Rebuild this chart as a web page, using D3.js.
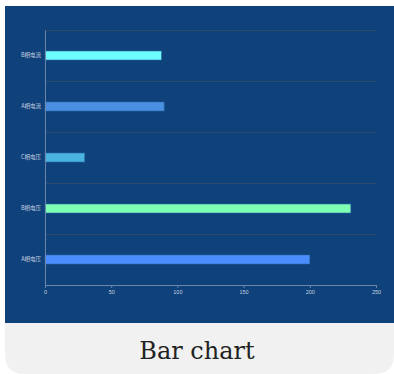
<!DOCTYPE html>
<html><head><meta charset="utf-8">
<script src="https://cdn.jsdelivr.net/npm/d3@7"></script>
<style>
html,body{margin:0;padding:0;background:#fff;}
svg{display:block;}
</style></head>
<body>
<svg id="c" width="394" height="374"></svg>
<script>
const categories = ["B相电流","A相电流","C相电压","B相电压","A相电压"];
const values = [88, 90, 30, 231, 200];
const barColors = ["#6ffcff","#4a90e2","#4ab3e0","#7effb2","#4a8dff"];
const xTicks = [0,50,100,150,200,250];
const title = "Bar chart";

const svg = d3.select("#c");
// card
const clipPath = "M5,6 H394 V354 Q394,374 374,374 H25 Q5,374 5,354 Z";
svg.append("path").attr("d", clipPath).attr("fill", "#f1f1f1");
svg.append("rect").attr("x",5).attr("y",6).attr("width",389).attr("height",317).attr("fill","#0f417b");

const x = d3.scaleLinear().domain([0,250]).range([45,376]);
const y = d3.scaleBand().domain(categories).range([30,285]);

// grid lines (category boundaries)
const bounds = categories.map(c => y(c));
svg.append("g").selectAll("line").data(bounds).join("line")
  .attr("x1",45).attr("x2",376).attr("y1",d=>d+0.5).attr("y2",d=>d+0.5)
  .attr("stroke","#2e4a6e").attr("stroke-width",1);

// bars
const bh = 9;
svg.append("g").selectAll("rect").data(categories).join("rect")
  .attr("x", x(0)).attr("y", d => y(d) + y.bandwidth()/2 - bh/2)
  .attr("width", (d,i) => x(values[i]) - x(0)).attr("height", bh)
  .attr("fill", (d,i) => barColors[i])
  .attr("stroke", "#2a6aa8").attr("stroke-width", 0.6);

// x axis
const xa = svg.append("g").attr("transform","translate(0,285)")
  .call(d3.axisBottom(x).tickValues(xTicks).tickSize(3).tickPadding(2));
xa.select(".domain").attr("stroke","#6a87ab");
xa.selectAll(".tick line").attr("stroke","#6a87ab");
xa.selectAll("text").attr("fill","#c8d2e0").attr("font-size",5.5).attr("font-family","Liberation Sans, sans-serif");

// y axis
const ya = svg.append("g").attr("transform","translate(45,0)")
  .call(d3.axisLeft(y).tickSize(0).tickPadding(4));
ya.select(".domain").attr("stroke","#6a87ab");
ya.selectAll("text").attr("fill","#c8d2e0").attr("font-size",5.5).attr("font-family","Noto Sans CJK SC, sans-serif");

// title
svg.append("text").attr("x",197).attr("y",359).attr("text-anchor","middle")
  .attr("font-family","DejaVu Serif, Liberation Serif, serif").attr("font-size",24)
  .attr("fill","#222").text(title);
</script>
</body></html>
